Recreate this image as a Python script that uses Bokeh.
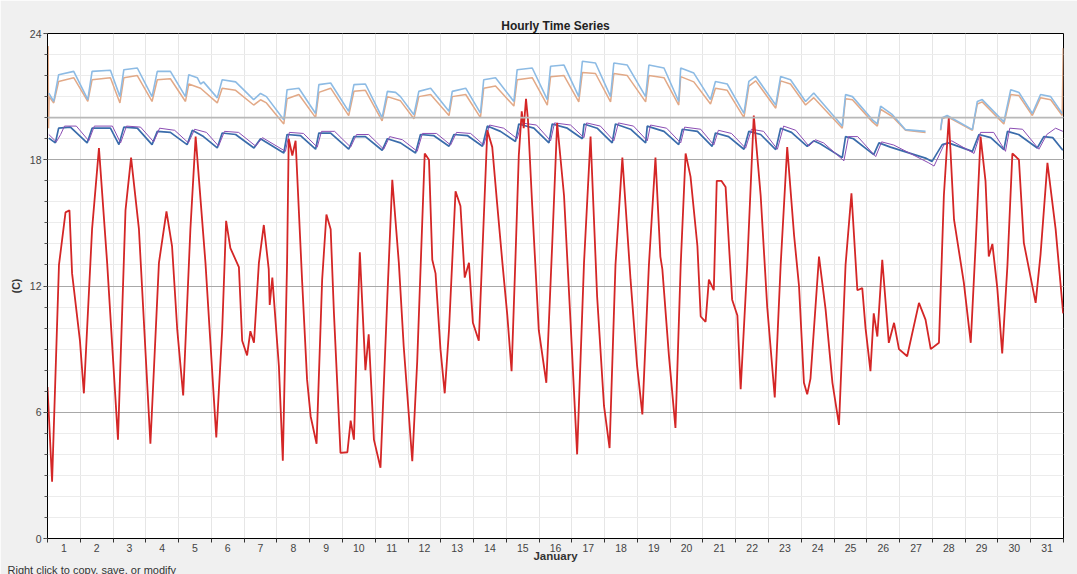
import math
from bokeh.plotting import figure
from bokeh.models import (FixedTicker, SingleIntervalTicker, Span, Title,
                          Range1d, CustomJSTickFormatter)
from bokeh.embed import file_html
from bokeh.resources import INLINE

nan = float("nan")

# ---------------- data (time in days since 1 January 00:00, temperature in C) -------------
days = list(range(1, 32))
y_interval = 6
threshold = 20

outdoor = [
    (0.00, 7.2), (0.14, 2.7), (0.35, 13.0), (0.55, 15.5), (0.67, 15.6), (0.75, 12.6), (0.99, 9.4),
    (1.11, 6.9), (1.36, 14.7), (1.57, 18.55), (1.82, 13.1), (2.15, 4.7), (2.38, 15.6), (2.55, 18.1),
    (2.79, 14.7), (3.14, 4.5), (3.40, 13.1), (3.63, 15.55), (3.80, 13.9), (3.96, 9.9), (4.14, 6.8),
    (4.36, 14.7), (4.52, 19.1), (4.82, 13.1), (5.15, 4.8), (5.33, 9.9), (5.45, 15.1), (5.58, 13.8),
    (5.84, 12.9), (5.94, 9.4), (6.09, 8.7), (6.19, 9.85), (6.30, 9.3), (6.45, 13.1), (6.60, 14.9),
    (6.75, 12.8), (6.78, 11.1), (6.86, 12.4), (7.06, 8.2), (7.18, 3.7), (7.31, 13.1), (7.36, 19.0),
    (7.47, 18.2), (7.57, 18.9), (7.77, 12.2), (7.92, 7.55), (8.03, 5.8), (8.21, 4.5), (8.38, 12.3),
    (8.51, 15.4), (8.64, 14.7), (8.74, 10.7), (8.94, 4.07), (9.15, 4.1), (9.25, 5.6), (9.35, 4.7),
    (9.45, 9.9), (9.53, 13.6), (9.70, 8.0), (9.80, 9.7), (9.96, 4.7), (10.16, 3.36), (10.37, 11.5),
    (10.52, 17.05), (10.72, 13.1), (10.87, 9.1), (11.13, 3.67), (11.28, 8.4), (11.51, 18.3),
    (11.64, 18.0), (11.74, 13.25), (11.84, 12.6), (11.99, 9.0), (12.12, 6.9), (12.25, 9.9),
    (12.45, 16.5), (12.60, 15.8), (12.73, 12.4), (12.86, 13.1), (12.98, 10.25), (13.16, 9.4),
    (13.42, 19.4), (13.57, 18.6), (13.72, 15.9), (13.88, 13.1), (14.03, 10.6), (14.16, 7.95),
    (14.28, 13.4), (14.38, 18.2), (14.47, 20.3), (14.53, 19.5), (14.60, 20.9), (14.66, 19.9),
    (14.79, 15.8), (14.99, 9.9), (15.22, 7.4), (15.40, 14.0), (15.55, 19.75), (15.76, 16.3),
    (15.96, 10.25), (16.16, 4.0), (16.37, 13.1), (16.57, 19.1), (16.77, 11.5), (16.98, 6.3),
    (17.15, 4.3), (17.33, 13.0), (17.54, 18.1), (17.79, 12.3), (17.99, 8.2), (18.15, 5.9),
    (18.35, 13.0), (18.55, 18.1), (18.70, 13.4), (18.76, 12.8), (18.96, 8.7), (19.16, 5.25),
    (19.32, 13.0), (19.47, 18.3), (19.62, 17.2), (19.83, 13.9), (19.93, 10.55), (20.08, 10.3),
    (20.18, 12.3), (20.33, 11.8), (20.42, 17.0), (20.56, 17.0), (20.69, 16.7), (20.89, 11.35),
    (21.05, 10.6), (21.15, 7.1), (21.35, 13.0), (21.55, 20.1), (21.76, 16.3), (21.96, 11.0),
    (22.19, 6.7), (22.37, 13.0), (22.57, 18.6), (22.78, 14.4), (22.93, 12.0), (23.08, 7.4),
    (23.18, 6.85), (23.28, 7.6), (23.54, 13.4), (23.74, 10.9), (23.95, 7.4), (24.15, 5.4),
    (24.35, 13.0), (24.53, 16.4), (24.71, 11.8), (24.86, 11.9), (24.96, 10.0), (25.11, 7.95),
    (25.21, 10.7), (25.32, 9.6), (25.47, 13.25), (25.67, 9.3), (25.83, 10.25), (25.98, 9.0),
    (26.23, 8.66), (26.59, 11.2), (26.79, 10.4), (26.95, 9.0), (27.20, 9.3), (27.35, 16.3),
    (27.50, 20.0), (27.66, 15.15), (27.96, 12.15), (28.17, 9.3), (28.32, 14.0), (28.47, 19.1),
    (28.62, 17.0), (28.72, 13.4), (28.83, 14.0), (28.98, 11.9), (29.13, 8.8), (29.29, 13.0),
    (29.44, 18.3), (29.64, 18.0), (29.79, 14.05), (30.15, 11.2), (30.30, 13.5), (30.51, 17.85),
    (30.76, 14.7), (30.99, 10.7),
]

upper_blue = [
    (0.04, 21.17), (0.19, 20.77), (0.34, 22.04), (0.80, 22.2), (1.23, 20.86), (1.36, 22.2),
    (1.92, 22.25), (2.21, 21.0), (2.33, 22.28), (2.74, 22.36), (3.19, 21.0), (3.35, 22.2),
    (3.75, 22.2), (4.21, 21.0), (4.31, 22.04), (4.57, 21.9), (4.67, 21.6), (4.76, 21.7),
    (5.18, 20.94), (5.33, 21.8), (5.74, 21.7), (6.29, 20.86), (6.50, 21.15), (6.68, 21.0),
    (7.21, 19.9), (7.31, 21.33), (7.67, 21.4), (8.18, 20.2), (8.28, 21.57), (8.64, 21.65),
    (9.19, 20.3), (9.35, 21.57), (9.70, 21.6), (10.21, 20.0), (10.37, 21.25), (10.62, 21.2),
    (10.77, 21.0), (11.18, 20.14), (11.33, 21.25), (11.69, 21.4), (12.25, 20.3), (12.35, 21.25),
    (12.76, 21.4), (13.21, 20.22), (13.31, 21.8), (13.67, 21.9), (14.23, 20.77), (14.33, 22.28),
    (14.79, 22.36), (15.25, 20.86), (15.35, 22.44), (15.76, 22.5), (16.21, 21.0), (16.32, 22.68),
    (16.72, 22.6), (17.18, 21.0), (17.28, 22.6), (17.69, 22.5), (18.25, 21.0), (18.35, 22.5),
    (18.81, 22.36), (19.26, 20.77), (19.32, 22.36), (19.72, 22.12), (20.23, 20.86), (20.38, 21.72),
    (20.74, 21.6), (21.25, 20.2), (21.40, 21.72), (21.61, 21.96), (22.22, 20.6), (22.37, 21.96),
    (22.67, 21.8), (23.13, 20.77), (23.38, 21.17), (24.25, 19.6), (24.35, 21.1), (24.56, 21.0),
    (25.17, 19.9), (25.32, 19.7), (25.42, 20.55), (25.78, 20.14), (26.18, 19.43), (26.79, 19.35),
    (26.80, nan), (27.25, 19.43), (27.30, 20.0), (27.45, 20.1), (28.22, 19.43), (28.37, 20.77),
    (28.52, 20.86), (29.18, 19.8), (29.39, 21.33), (29.64, 21.2), (30.05, 20.2), (30.30, 21.1),
    (30.61, 21.0), (30.96, 20.2),
]

upper_orange = [
    (0.02, 23.4), (0.03, 19.5), (0.05, 21.0), (0.19, 20.7), (0.34, 21.72), (0.80, 21.9),
    (1.23, 20.77), (1.36, 21.8), (1.92, 21.9), (2.21, 20.7), (2.33, 21.9), (2.74, 22.0),
    (3.19, 20.77), (3.35, 21.8), (3.75, 21.85), (4.21, 20.77), (4.31, 21.6), (4.67, 21.4),
    (5.18, 20.7), (5.33, 21.4), (5.74, 21.3), (6.29, 20.6), (6.50, 20.85), (6.68, 20.7),
    (7.21, 19.7), (7.31, 20.9), (7.67, 21.1), (8.18, 20.0), (8.28, 21.2), (8.64, 21.4),
    (9.19, 20.1), (9.35, 21.25), (9.70, 21.3), (10.21, 19.85), (10.37, 21.0), (10.77, 20.8),
    (11.18, 19.95), (11.33, 21.0), (11.69, 21.1), (12.25, 20.1), (12.35, 21.0), (12.76, 21.1),
    (13.21, 20.0), (13.31, 21.4), (13.67, 21.5), (14.23, 20.55), (14.33, 21.8), (14.79, 21.9),
    (15.25, 20.6), (15.35, 21.95), (15.76, 22.0), (16.21, 20.75), (16.32, 22.15), (16.72, 22.1),
    (17.18, 20.75), (17.28, 22.1), (17.69, 22.0), (18.25, 20.75), (18.35, 22.0), (18.81, 21.9),
    (19.26, 20.6), (19.32, 21.95), (19.72, 21.7), (20.23, 20.65), (20.38, 21.4), (20.74, 21.3),
    (21.25, 20.0), (21.40, 21.5), (21.61, 21.75), (22.22, 20.45), (22.37, 21.75), (22.67, 21.6),
    (23.13, 20.6), (23.38, 20.95), (24.25, 19.5), (24.35, 20.9), (24.56, 20.85), (25.17, 19.8),
    (25.32, 19.6), (25.42, 20.4), (25.78, 20.05), (26.18, 19.4), (26.79, 19.3), (26.80, nan),
    (27.25, 19.4), (27.30, 19.95), (27.45, 20.05), (28.22, 19.4), (28.37, 20.65), (28.52, 20.75),
    (29.18, 19.7), (29.39, 21.1), (29.64, 21.05), (30.05, 20.1), (30.30, 20.95), (30.61, 20.85),
    (30.96, 20.1), (30.99, 23.3),
]

lower_blue = [
    (0.04, 19.03), (0.24, 18.8), (0.34, 19.5), (0.70, 19.55), (1.21, 18.8), (1.36, 19.5),
    (1.92, 19.5), (2.18, 18.72), (2.33, 19.55), (2.74, 19.5), (3.19, 18.72), (3.35, 19.35),
    (3.75, 19.3), (4.26, 18.72), (4.42, 19.4), (4.76, 19.1), (5.18, 18.56), (5.33, 19.27),
    (5.74, 19.2), (6.30, 18.56), (6.50, 19.0), (7.21, 18.32), (7.31, 19.2), (7.72, 19.15),
    (8.18, 18.5), (8.28, 19.27), (8.64, 19.27), (9.19, 18.5), (9.35, 19.1), (9.70, 19.1),
    (10.21, 18.45), (10.37, 19.0), (10.77, 18.8), (11.23, 18.32), (11.38, 19.2), (11.78, 19.15),
    (12.25, 18.64), (12.40, 19.2), (12.81, 19.15), (13.27, 18.64), (13.42, 19.6), (13.82, 19.35),
    (14.28, 18.87), (14.38, 19.7), (14.84, 19.5), (15.30, 18.8), (15.40, 19.7), (15.86, 19.5),
    (16.32, 19.0), (16.37, 19.7), (16.77, 19.5), (17.23, 18.8), (17.33, 19.7), (17.79, 19.45),
    (18.25, 18.8), (18.30, 19.6), (18.81, 19.35), (19.26, 18.72), (19.37, 19.45), (19.83, 19.35),
    (20.28, 18.64), (20.38, 19.27), (20.78, 19.1), (21.25, 18.5), (21.40, 19.35), (21.76, 19.2),
    (22.22, 18.48), (22.37, 19.5), (22.70, 19.3), (23.18, 18.64), (23.38, 18.9), (23.59, 18.75),
    (24.25, 18.1), (24.35, 19.1), (24.59, 19.0), (25.21, 18.24), (25.37, 18.8), (25.72, 18.6),
    (26.79, 18.08), (26.99, 17.92), (27.30, 18.72), (27.49, 18.8), (28.22, 18.4), (28.42, 19.2),
    (28.78, 19.05), (29.18, 18.48), (29.29, 19.35), (29.63, 19.2), (30.20, 18.56), (30.40, 19.1),
    (30.67, 19.05), (30.98, 18.45),
]

lower_purple = [
    (0.04, 19.2), (0.27, 18.85), (0.40, 19.2), (0.52, 19.6), (0.88, 19.6), (1.26, 18.9),
    (1.43, 19.6), (1.98, 19.6), (2.23, 18.8), (2.41, 19.6), (2.84, 19.55), (3.24, 18.85),
    (3.42, 19.5), (3.88, 19.4), (4.30, 18.8), (4.49, 19.45), (4.85, 19.3), (5.22, 18.65),
    (5.40, 19.35), (5.83, 19.3), (6.35, 18.65), (6.56, 19.05), (7.26, 18.4), (7.38, 19.3),
    (7.81, 19.25), (8.23, 18.6), (8.36, 19.35), (8.76, 19.35), (9.25, 18.6), (9.43, 19.2),
    (9.80, 19.2), (10.26, 18.5), (10.44, 19.1), (10.83, 18.95), (11.28, 18.4), (11.44, 19.25),
    (11.87, 19.25), (12.30, 18.7), (12.48, 19.3), (12.91, 19.25), (13.31, 18.7), (13.49, 19.65),
    (13.92, 19.5), (14.33, 19.0), (14.46, 19.75), (14.92, 19.65), (15.35, 18.9), (15.47, 19.75),
    (15.96, 19.65), (16.37, 19.05), (16.45, 19.75), (16.87, 19.6), (17.28, 18.9), (17.42, 19.75),
    (17.88, 19.6), (18.30, 18.9), (18.40, 19.65), (18.89, 19.5), (19.32, 18.8), (19.44, 19.55),
    (19.93, 19.45), (20.33, 18.7), (20.47, 19.4), (20.87, 19.25), (21.30, 18.55), (21.48, 19.45),
    (21.85, 19.35), (22.27, 18.5), (22.46, 19.6), (22.83, 19.4), (23.23, 18.65), (23.43, 18.95),
    (23.68, 18.8), (24.30, 17.95), (24.44, 19.1), (24.72, 19.1), (25.27, 18.15), (25.45, 18.85),
    (25.82, 18.7), (26.89, 17.85), (27.05, 17.7), (27.35, 18.7), (27.59, 18.9), (28.27, 18.3),
    (28.47, 19.3), (28.87, 19.3), (29.23, 18.4), (29.36, 19.5), (29.75, 19.45), (30.25, 18.5),
    (30.49, 19.2), (30.76, 19.5), (30.98, 19.35),
]

FONT = "Liberation Sans"


def xs(series):
    return [t for t, _ in series]


def ys(series):
    return [v for _, v in series]


p = figure(width=1077, height=574, output_backend="svg", toolbar_location=None,
           x_range=Range1d(0, len(days)), y_range=Range1d(0, 4 * y_interval),
           min_border_left=47, min_border_right=14, min_border_top=33, min_border_bottom=35,
           background_fill_color="white", border_fill_color="#f0f0f0")

p.title.text = "Hourly Time Series"
p.title.align = "center"
p.title.text_font = FONT
p.title.text_font_size = "12px"
p.title.text_font_style = "bold"
p.title.text_color = "#222222"
p.title.standoff = 2

p.outline_line_color = "black"
p.outline_line_width = 1

# x axis: labels centred on each day, ticks and grid on day boundaries
xt = FixedTicker(ticks=[d - 0.5 for d in days], minor_ticks=[0] + days)
p.xaxis.ticker = xt
p.xaxis.formatter = CustomJSTickFormatter(code="return String(Math.round(tick + 0.5));")
p.xaxis.major_tick_line_color = None
p.xaxis.major_tick_out = 0
p.xaxis.major_tick_in = 0
p.xaxis.minor_tick_in = 0
p.xaxis.minor_tick_out = 4
p.xaxis.minor_tick_line_color = "#333333"
p.xaxis.axis_line_color = "black"
p.xaxis.major_label_standoff = 1
p.xaxis.major_label_text_font = FONT
p.xaxis.major_label_text_font_size = "10.5px"
p.xaxis.major_label_text_color = "#444444"
p.xaxis.axis_label = "January"
p.xaxis.axis_label_text_font = FONT
p.xaxis.axis_label_text_font_size = "11.5px"
p.xaxis.axis_label_text_font_style = "bold"
p.xaxis.axis_label_text_color = "#333333"
p.xaxis.axis_label_standoff = -5
p.xgrid.ticker = xt
p.xgrid.grid_line_color = None
p.xgrid.minor_grid_line_color = "#e6e6e6"

# y axis
yt = SingleIntervalTicker(interval=y_interval, num_minor_ticks=y_interval)
p.yaxis.ticker = yt
p.yaxis.major_tick_out = 4
p.yaxis.major_tick_in = 0
p.yaxis.minor_tick_out = 3
p.yaxis.minor_tick_in = 0
p.yaxis.major_tick_line_color = "#333333"
p.yaxis.minor_tick_line_color = "#555555"
p.yaxis.axis_line_color = "black"
p.yaxis.major_label_standoff = 2
p.yaxis.major_label_text_font = FONT
p.yaxis.major_label_text_font_size = "10.5px"
p.yaxis.major_label_text_color = "#444444"
p.yaxis.axis_label = "(C)"
p.yaxis.axis_label_text_font = FONT
p.yaxis.axis_label_text_font_size = "10.5px"
p.yaxis.axis_label_text_font_style = "bold"
p.yaxis.axis_label_text_color = "#333333"
p.yaxis.axis_label_standoff = 5
p.ygrid.ticker = yt
p.ygrid.grid_line_color = "#a8a8a8"
p.ygrid.grid_line_width = 1.2
p.ygrid.minor_grid_line_color = "#ececec"

p.add_layout(Span(location=threshold, dimension="width", line_color="#b8b8b8", line_width=1.6))

# series
p.line(xs(upper_orange), ys(upper_orange), line_color="#e2a987", line_width=1.5)
p.line(xs(upper_blue), ys(upper_blue), line_color="#8dbbe4", line_width=1.6)
p.line(xs(lower_blue), ys(lower_blue), line_color="#3a6cab", line_width=1.7)
p.line(xs(lower_purple), ys(lower_purple), line_color="#8b4db3", line_width=1.0)
p.line(xs(outdoor), ys(outdoor), line_color="#d42626", line_width=1.8)

note = Title(text="Right click to copy, save, or modify", align="left", offset=-40,
             vertical_align="middle",
             text_font=FONT, text_font_size="11px", text_font_style="normal",
             text_color="#333333", standoff=-4)
p.add_layout(note, "below")

open("out.html", "w").write(file_html(p, INLINE))
